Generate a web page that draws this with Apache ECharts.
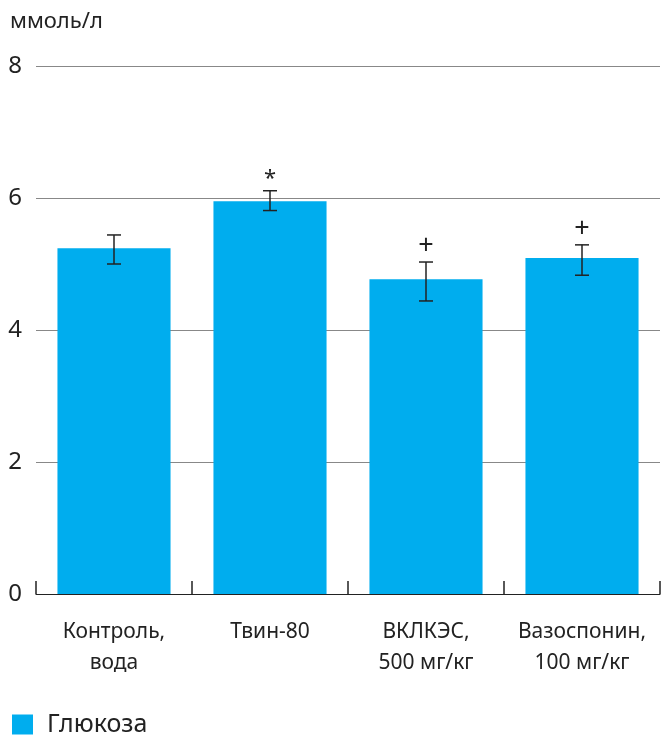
<!DOCTYPE html>
<html><head><meta charset="utf-8">
<script src="https://cdn.jsdelivr.net/npm/echarts@6/dist/echarts.min.js"></script>
<style>html,body{margin:0;padding:0;background:#fff}#c{width:671px;height:736px}</style>
</head><body><div id="c"></div>
<script>
const categories = ['Контроль,\nвода', 'Твин-80', 'ВКЛКЭС,\n500 мг/кг', 'Вазоспонин,\n100 мг/кг'];
const glucose = [5.24, 5.95, 4.77, 5.09];
const errLow = [5.00, 5.81, 4.44, 4.83];
const errHigh = [5.44, 6.11, 5.03, 5.29];
const marks = ['', '*', '+', '+'];
const yTicks = [0, 2, 4, 6, 8];

const FONT = '"Noto Sans", "Open Sans", sans-serif';
const chart = echarts.init(document.getElementById('c'), null, {renderer: 'canvas'});
const errData = categories.map((c, i) => [i, errLow[i], errHigh[i], marks[i]]);

chart.setOption({
  animation: false,
  textStyle: {fontFamily: FONT},
  title: {text: 'ммоль/л', left: 10, top: 11, padding: 0, textStyle: {fontFamily: FONT, fontSize: 22, fontWeight: 'normal', color: '#222'}},
  legend: {
    left: 12, top: 712, padding: 0, itemWidth: 21, itemHeight: 20,
    icon: 'rect',
    textStyle: {fontFamily: FONT, fontSize: 25, color: '#222', padding: [0, 0, 0, 9]},
    data: ['Глюкоза']
  },
  grid: {left: 36, right: 11, top: 66, bottom: 142, containLabel: false},
  xAxis: {
    type: 'category', data: categories,
    axisLine: {lineStyle: {color: '#222', width: 1.2}},
    axisTick: {show: true, inside: true, interval: 0, length: 13, lineStyle: {color: '#222', width: 1.5}},
    axisLabel: {interval: 0, hideOverlap: false, fontFamily: FONT, fontSize: 21, color: '#222', margin: 23, lineHeight: 31}
  },
  yAxis: {
    type: 'value', min: yTicks[0], max: yTicks[yTicks.length - 1], interval: 2,
    axisLine: {show: false}, axisTick: {show: false},
    splitLine: {lineStyle: {color: '#888', width: 1.2}},
    axisLabel: {fontFamily: FONT, fontSize: 24, color: '#222', margin: 14}
  },
  series: [
    {
      name: 'Глюкоза', type: 'bar', data: glucose,
      barCategoryGap: '27.5%', z: 1,
      itemStyle: {color: '#00ADEE'}
    },
    {
      type: 'custom', data: errData, z: 10,
      renderItem: function (params, api) {
        const x = api.value(0);
        const lo = api.coord([x, api.value(1)]);
        const hi = api.coord([x, api.value(2)]);
        const hw = 7;
        const st = {stroke: '#222', lineWidth: 1.5};
        const children = [
          {type: 'line', shape: {x1: hi[0], y1: hi[1], x2: lo[0], y2: lo[1]}, style: st},
          {type: 'line', shape: {x1: hi[0] - hw, y1: hi[1], x2: hi[0] + hw, y2: hi[1]}, style: st},
          {type: 'line', shape: {x1: lo[0] - hw, y1: lo[1], x2: lo[0] + hw, y2: lo[1]}, style: st}
        ];
        const m = errData[params.dataIndex][3];
        if (m) {
          children.push({type: 'text', x: hi[0], y: hi[1] - (m === '*' ? 12 : 16),
            style: {text: m, fontFamily: FONT, fontSize: m === '*' ? 22 : 27, fill: '#222', align: 'center', verticalAlign: 'middle'}});
        }
        return {type: 'group', children: children};
      }
    }
  ]
});
</script></body></html>
